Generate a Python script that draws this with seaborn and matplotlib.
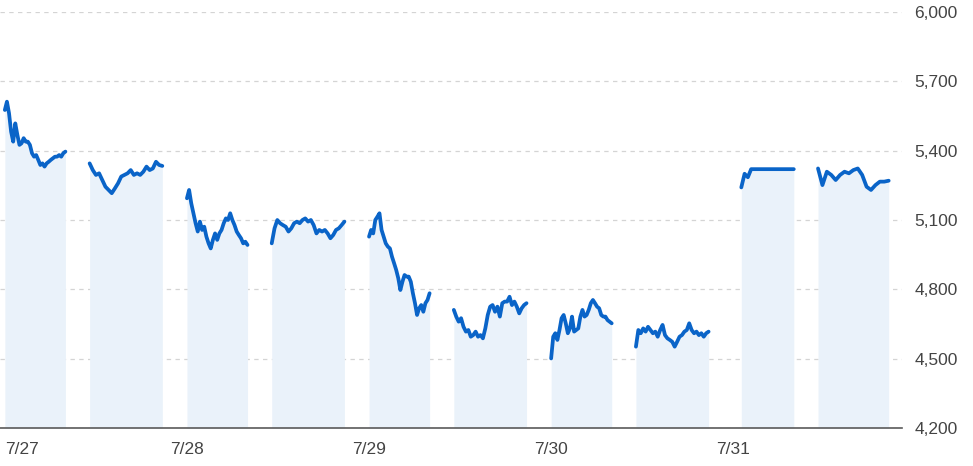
import numpy as np
import pandas as pd
import seaborn as sns
import matplotlib.pyplot as plt

# day labels and intraday prices (two sessions per day)
days = ['7/27', '7/28', '7/29', '7/30', '7/31']

d1_am = [5576, 5612, 5562, 5482, 5439, 5518, 5468, 5425, 5432, 5454, 5439, 5439, 5425, 5389, 5374,
         5381, 5360, 5338, 5345, 5331, 5345, 5352, 5360, 5367, 5374, 5374, 5381, 5374, 5389, 5396]
d1_pm = [5345, 5316, 5295, 5302, 5273, 5244, 5230, 5216, 5237, 5259, 5288, 5295, 5302, 5316, 5295,
         5302, 5295, 5309, 5331, 5316, 5323, 5352, 5338, 5334]
d2_am = [5194, 5230, 5172, 5129, 5086, 5050, 5093, 5057, 5071, 5028, 4999, 4977, 5014, 5042, 5014,
         5042, 5057, 5086, 5107, 5100, 5129, 5100, 5078, 5050, 5035, 5021, 4999, 5006, 4992]
d2_pm = [4999, 5064, 5100, 5086, 5078, 5071, 5050, 5064, 5086, 5093, 5086, 5100, 5107, 5093, 5100,
         5078, 5042, 5057, 5050, 5057, 5042, 5021, 5035, 5057, 5064, 5078, 5093]
d3_am = [5028, 5057, 5042, 5100, 5114, 5129, 5057, 5028, 4999, 4985, 4977, 4941, 4913, 4884, 4848,
         4797, 4833, 4862, 4855, 4855, 4833, 4783, 4740, 4689, 4718, 4732, 4703, 4740, 4754, 4783]
d3_pm = [4711, 4682, 4660, 4675, 4638, 4617, 4624, 4595, 4602, 4617, 4595, 4602, 4588, 4631, 4689,
         4725, 4732, 4703, 4725, 4682, 4740, 4747, 4747, 4768, 4732, 4747, 4725, 4696, 4718, 4732, 4740]
d4_am = [4501, 4595, 4610, 4581, 4624, 4675, 4689, 4653, 4610, 4631, 4682, 4617, 4624, 4631, 4682,
         4711, 4682, 4689, 4711, 4740, 4754, 4740, 4725, 4718, 4689, 4682, 4682, 4667, 4660, 4653]
d4_pm = [4552, 4624, 4610, 4631, 4617, 4638, 4624, 4610, 4617, 4595, 4624, 4646, 4602, 4588, 4581,
         4573, 4552, 4573, 4595, 4602, 4617, 4624, 4653, 4624, 4610, 4617, 4602, 4610, 4595, 4610, 4617]
d5_am = [5241, 5300, 5285, 5320, 5320, 5320, 5320, 5320, 5320, 5320, 5320, 5320, 5320, 5320, 5320,
         5320, 5320]
d5_pm = [5323, 5251, 5309, 5295, 5273, 5295, 5309, 5302, 5316, 5323, 5295, 5244, 5230, 5251, 5266,
         5266, 5270]

# (day index, first trade, last trade, prices)
sessions = [
    (0, '09:00', '11:30', d1_am), (0, '12:30', '15:30', d1_pm),
    (1, '09:00', '11:30', d2_am), (1, '12:30', '15:30', d2_pm),
    (2, '09:00', '11:30', d3_am), (2, '12:30', '15:30', d3_pm),
    (3, '09:00', '11:30', d4_am), (3, '12:30', '15:30', d4_pm),
    (4, '09:20', '11:30', d5_am), (4, '12:30', '15:25', d5_pm),
]

y_ticks = [4200, 4500, 4800, 5100, 5400, 5700, 6000]

DAY_PITCH = 451  # axis minutes given to one trading day
LINE = '#0a64c8'
FILL = '#eaf2fa'


def to_x(day, hhmm):
    h, m = map(int, hhmm.split(':'))
    return day * DAY_PITCH + (h - 9) * 60 + m


sns.set_style('white')
plt.rcParams['font.family'] = ['Liberation Sans', 'DejaVu Sans']

fig = plt.figure(figsize=(9.73, 4.66), dpi=100)
ax = fig.add_axes([0, 1 - 428 / 466, 902 / 973, 416 / 466])

for day, start, end, vals in sessions:
    x = np.linspace(to_x(day, start), to_x(day, end), len(vals))
    df = pd.DataFrame({'t': x, 'price': vals})
    ax.fill_between(df['t'], df['price'], y_ticks[0], color=FILL, lw=0, zorder=1)
    sns.lineplot(data=df, x='t', y='price', ax=ax, color=LINE, lw=2.7, zorder=3)

ax.set_xlim(-12, 2222)
ax.set_ylim(y_ticks[0], y_ticks[-1])
ax.set_xlabel('')
ax.set_ylabel('')

ax.yaxis.tick_right()
ax.set_yticks(y_ticks)
ax.set_yticklabels([f'{v:,}' for v in y_ticks])
ax.tick_params(axis='y', length=0, pad=9, labelsize=12.5, labelcolor='#444444')

ax.set_xticks([to_x(d, '09:00') for d in range(len(days))])
ax.set_xticklabels(days)
ax.tick_params(axis='x', length=0, pad=10, labelsize=12.5, labelcolor='#444444')
ax.get_xticklabels()[0].set_horizontalalignment('left')

ax.grid(axis='y', ls=(0, (3.5, 3.5)), color='#d4d4d4', lw=0.9)
ax.grid(axis='x', visible=False)
ax.set_axisbelow(True)

for side in ['top', 'left', 'right']:
    ax.spines[side].set_visible(False)
ax.spines['bottom'].set_color('#5a5a5a')
ax.spines['bottom'].set_linewidth(1.2)
ax.spines['bottom'].set_zorder(4)

fig.savefig('out.png', dpi=100)
